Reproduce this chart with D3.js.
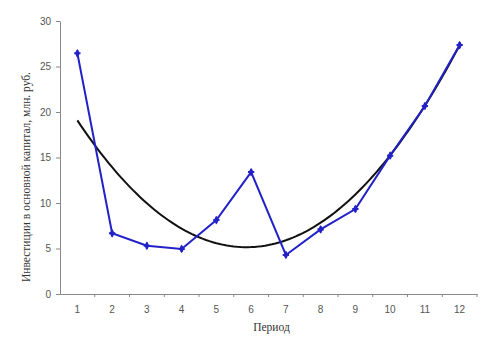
<!DOCTYPE html>
<html><head><meta charset="utf-8">
<script src="https://cdn.jsdelivr.net/npm/d3@7"></script>
<style>body{margin:0;background:#fff}svg{display:block}</style>
</head><body>
<svg id="c" width="490" height="348"></svg>
<script>
const periods = [1,2,3,4,5,6,7,8,9,10,11,12];
const investment = [26.45,6.67,5.3,4.95,8.13,13.4,4.29,7.1,9.34,15.2,20.66,27.36];
const yTicks = [0,5,10,15,20,25,30];
const xTitle = "Период";
const yTitle = "Инвестиции в основной капитал, млн. руб.";

const svg = d3.select("#c");
const L = 60, R = 477, T = 21, B = 294;
const x = d3.scaleBand().domain(periods).range([L, R]);
const y = d3.scaleLinear().domain([0, 30]).range([B, T]);
const cx = d => x(d) + x.bandwidth() / 2;

// quadratic least-squares trend (polynomial order 2), computed from the data
function polyFit(xs, ys) {
  const S = k => d3.sum(xs, v => Math.pow(v, k));
  const Sy = k => d3.sum(xs, (v, i) => Math.pow(v, k) * ys[i]);
  const A = [[S(0), S(1), S(2)], [S(1), S(2), S(3)], [S(2), S(3), S(4)]];
  const b = [Sy(0), Sy(1), Sy(2)];
  for (let i = 0; i < 3; i++) {
    for (let j = i + 1; j < 3; j++) {
      const f = A[j][i] / A[i][i];
      for (let k = i; k < 3; k++) A[j][k] -= f * A[i][k];
      b[j] -= f * b[i];
    }
  }
  const c = [0, 0, 0];
  for (let i = 2; i >= 0; i--) {
    let s = b[i];
    for (let k = i + 1; k < 3; k++) s -= A[i][k] * c[k];
    c[i] = s / A[i][i];
  }
  return c;
}
const coef = polyFit(periods, investment);
const trendX = d3.range(1, 12.0001, 0.1);
const xl = d3.scaleLinear().domain([1, 12]).range([cx(1), cx(12)]);

// axes
const yAxis = d3.axisLeft(y).tickValues(yTicks).tickSize(4).tickSizeOuter(0);
const gy = svg.append("g").attr("transform", `translate(${L},0)`).call(yAxis);
gy.select(".domain").attr("stroke", "#888");
gy.selectAll(".tick line").attr("stroke", "#888");
gy.selectAll(".tick text").attr("font-family", "Liberation Sans, Arial, sans-serif")
  .attr("font-size", 10).attr("fill", "#555").attr("x", -9);

const xAxis = d3.axisBottom(x).tickSize(0).tickSizeOuter(0).tickPadding(12);
const gx = svg.append("g").attr("transform", `translate(0,${B})`).call(xAxis);
gx.select(".domain").attr("stroke", "#888");
gx.selectAll(".tick text").attr("font-family", "Liberation Sans, Arial, sans-serif")
  .attr("font-size", 10).attr("fill", "#555");
svg.append("g").selectAll("line").data(periods.slice(1)).join("line")
  .attr("x1", d => x(d)).attr("x2", d => x(d))
  .attr("y1", B).attr("y2", B + 3).attr("stroke", "#888");
svg.append("line").attr("x1", R).attr("x2", R).attr("y1", B).attr("y2", B + 3).attr("stroke", "#888");

// trend
svg.append("path").datum(trendX)
  .attr("fill", "none").attr("stroke", "#111").attr("stroke-width", 2)
  .attr("d", d3.line().x(t => xl(t)).y(t => y(coef[0] + coef[1] * t + coef[2] * t * t)));

// data line
svg.append("path").datum(investment)
  .attr("fill", "none").attr("stroke", "#2222c8").attr("stroke-width", 2)
  .attr("d", d3.line().x((d, i) => cx(periods[i])).y(d => y(d)));
const mk = svg.append("g").selectAll("g").data(investment).join("g")
  .attr("transform", (d, i) => `translate(${cx(periods[i])},${y(d)})`);
mk.append("path").attr("d", d3.symbol(d3.symbolDiamond, 22)()).attr("fill", "#2222c8");
mk.append("path").attr("d", d3.symbol(d3.symbolCross, 22)()).attr("fill", "#2222c8");

// titles
svg.append("text").attr("x", (L + R) / 2 + 3).attr("y", 331).attr("text-anchor", "middle")
  .attr("font-family", "Liberation Serif, Times New Roman, serif").attr("font-size", 11.5).attr("fill", "#333")
  .text(xTitle);
svg.append("text").attr("transform", `translate(30,177) rotate(-90)`).attr("text-anchor", "middle")
  .attr("font-family", "Liberation Serif, Times New Roman, serif").attr("font-size", 11.5).attr("fill", "#333")
  .text(yTitle);
</script>
</body></html>
